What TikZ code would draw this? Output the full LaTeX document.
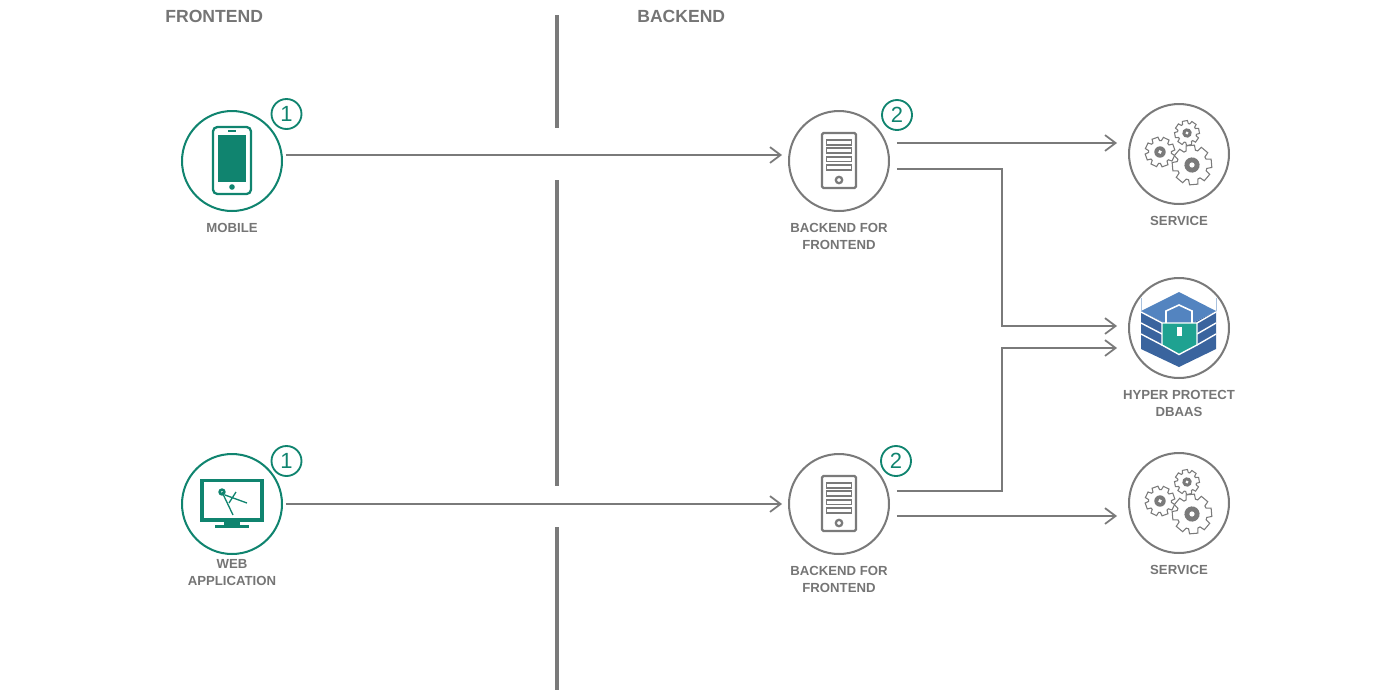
\documentclass[tikz,border=0pt]{standalone}
\usepackage{fontspec}
\setmainfont{Liberation Sans}
\usetikzlibrary{arrows.meta,positioning}
\definecolor{textgray}{HTML}{757575}
\definecolor{linegray}{HTML}{7A7A7A}
\definecolor{green}{HTML}{10846F}
\definecolor{dbtop}{HTML}{5384C0}
\definecolor{dbbody}{HTML}{3A649E}
\definecolor{dblock}{HTML}{1FA291}
\tikzset{
  circlenode/.style={circle,draw=linegray,line width=1.15pt,minimum size=2cm,inner sep=0pt,outer sep=0pt},
  frontnode/.style={circlenode,draw=green},
  badge/.style={circle,draw=green,line width=1.05pt,minimum size=.6cm,inner sep=0pt,text=green,font=\fontsize{12.5}{14}\selectfont},
  heading/.style={inner sep=0pt,anchor=west,text=textgray,font=\fontsize{10}{12}\selectfont\bfseries},
  caption/.style={inner sep=0pt,align=center,text=textgray,font=\fontsize{7.5}{9.5}\selectfont\bfseries},
  divider/.style={draw=linegray,line width=2.2pt},
  flow/.style={-{Straight Barb[length=6pt,width=9pt]},line width=1pt,draw=linegray},
  gearline/.style={draw=linegray,line width=.6pt,fill=white},
  pics/gearwheel/.style={code={
    \draw[gearline] (-18:{#1*.76}) \foreach \a in {0,45,...,315} {-- (\a-18:{#1*.76}) -- (\a-12:#1) -- (\a+12:#1) -- (\a+18:{#1*.76})} -- cycle;
    \fill[linegray] (0,0) circle ({#1*.38});
    \fill[white] (0,0) circle ({#1*.13});
  }},
  pics/phone/.style={code={
    \draw[green,line width=1.3pt,rounded corners=2.5pt] (-19,-34) rectangle (19,33);
    \fill[green] (-14.5,-26.5) rectangle (14,21);
    \draw[green,line width=.7pt] (-4,-30) -- (4,-30);
    \fill[green] (0,26) circle (2.8);
  }},
  pics/monitor/.style={code={
    \draw[green,line width=2pt] (-30,-23.5) rectangle (30,16);
    \fill[green] (-8,17) rectangle (8,21);
    \fill[green] (-17,21) rectangle (17,24);
    \draw[green,line width=.75pt] (-10,-12) -- (1,11);
    \draw[green,line width=.75pt] (-7,-9) -- (15,-1);
    \draw[green,line width=.75pt] (4,-12) -- (-3,-1);
    \draw[green,line width=1.4pt] (-10,-12) circle (2.4);
  }},
  pics/server/.style={code={
    \draw[linegray,line width=1.3pt,rounded corners=.8pt] (-17,-28) rectangle (17,27);
    \foreach \y in {-21,-12.7,-4.3,4} {
      \draw[linegray,line width=1.1pt] (-12.5,\y) rectangle (12.5,\y+4.8);
    }
    \draw[linegray,line width=1.3pt] (0,19) circle (3.2);
  }},
  pics/dblocked/.style={code={
    \fill[dbbody] (-38,-17) -- (0,2) -- (37,-17) -- (37,21) -- (0,39) -- (-38,21) -- cycle;
    \fill[dbtop] (-38,-17) -- (0,-36) -- (37,-17) -- (0,2) -- cycle;
    \draw[dbtop!50,line width=.5pt] (-38,-30) -- (-38,-17) (37,-30) -- (37,-17);
    \foreach \y in {0,11,22} {
      \draw[white,line width=.8pt] (-38,-16+\y) -- (-17,-5+\y);
      \draw[white,line width=.8pt] (37,-16+\y) -- (18,-5+\y);
    }
    \draw[white,line width=.9pt] (-13,-5) -- (-13,-17) -- (0,-23) -- (13,-17) -- (13,-5);
    \fill[dblock] (-17,-5) -- (18,-5) -- (18,17) -- (0,26.5) -- (-17,17) -- cycle;
    \draw[white,line width=.8pt] (-17,-5) -- (18,-5) -- (18,17) -- (0,26.5) -- (-17,17) -- cycle;
    \fill[white] (-2.5,-1) rectangle (2.5,8);
  }}
}

\begin{document}
\begin{tikzpicture}[x=.02cm,y=-.02cm,node distance=7pt]
  \useasboundingbox (0,0) rectangle (1377,697);
  % headings
  \node[heading] (frontend) at (165,16) {FRONTEND};
  \node[heading] (backend) at (637,16) {BACKEND};
  % dividing line
  \draw[divider] (557,15) -- (557,128);
  \draw[divider] (557,180) -- (557,486);
  \draw[divider] (557,527) -- (557,690);
  % frontend
  \node[frontnode] (mobile) at (232,161) {};
  \node[frontnode] (web) at (232,504) {};
  \node[badge] (badgemobile) at (286.5,114) {1};
  \node[badge] (badgeweb) at (286.5,461) {1};
  \node[caption,below=of mobile] (mobilelabel) {MOBILE};
  \node[caption,below=3pt of web] (weblabel) {WEB\\APPLICATION};
  % backend for frontend
  \node[circlenode] (bfftop) at (839,161) {};
  \node[circlenode] (bffbottom) at (839,504) {};
  \node[badge] (badgetop) at (897,115) {2};
  \node[badge] (badgebottom) at (896,461) {2};
  \node[caption,below=of bfftop] (bfftoplabel) {BACKEND FOR\\FRONTEND};
  \node[caption,below=of bffbottom] (bffbottomlabel) {BACKEND FOR\\FRONTEND};
  % services
  \node[circlenode] (servicetop) at (1179,154) {};
  \node[circlenode] (db) at (1179,328) {};
  \node[circlenode] (servicebottom) at (1179,503) {};
  \node[caption,below=of servicetop] (servicetoplabel) {SERVICE};
  \node[caption,below=of db] (dblabel) {HYPER PROTECT\\DBAAS};
  \node[caption,below=of servicebottom] (servicebottomlabel) {SERVICE};
  % icons
  \pic at (mobile.center) {phone};
  \pic at (web.center) {monitor};
  \pic at (bfftop.center) {server};
  \pic at (bffbottom.center) {server};
  \pic at (db.center) {dblocked};
  \foreach \svc in {servicetop,servicebottom} {
    \pic[rotate=10] at ([shift={(8,-21)}]\svc.center) {gearwheel=12.5};
    \pic[rotate=20] at ([shift={(-19,-2)}]\svc.center) {gearwheel=15};
    \pic[rotate=5] at ([shift={(13,11)}]\svc.center) {gearwheel=20};
  }
  % connectors
  \draw[flow] ([shift={(4,-6)}]mobile.east) -- ([shift={(-7,-6)}]bfftop.west);
  \draw[flow] ([shift={(4,0)}]web.east) -- ([shift={(-7,0)}]bffbottom.west);
  \draw[flow] ([shift={(8,-18)}]bfftop.east) -- ([shift={(-12,-11)}]servicetop.west);
  \draw[flow] ([shift={(8,8)}]bfftop.east) -| (1002,300) |- ([shift={(-12,-2)}]db.west);
  \draw[flow] ([shift={(8,-13)}]bffbottom.east) -| (1002,400) |- ([shift={(-12,20)}]db.west);
  \draw[flow] ([shift={(8,12)}]bffbottom.east) -- ([shift={(-12,13)}]servicebottom.west);
\end{tikzpicture}
\end{document}
